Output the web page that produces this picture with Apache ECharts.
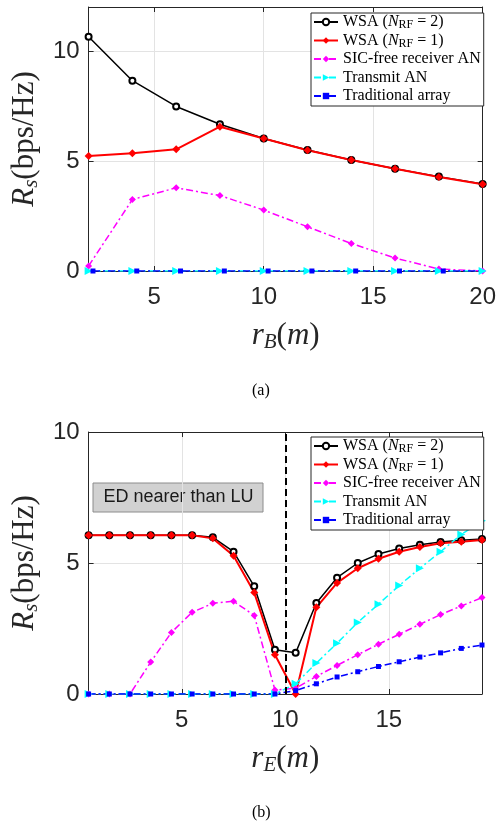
<!DOCTYPE html>
<html>
<head>
<meta charset="utf-8">
<script src="https://cdn.jsdelivr.net/npm/echarts@6/dist/echarts.min.js"></script>
<style>
html, body { margin: 0; padding: 0; background: #fff; }
#main { width: 499px; height: 828px; }
</style>
</head>
<body>
<div id="main"></div>
<script>
// ---- data: chart (a), secrecy rate vs r_B ----
var rB = [2, 4, 6, 8, 10, 12, 14, 16, 18, 20];
var rBTrad = [2.2, 4.2, 6.2, 8.2, 10.2, 12.2, 14.2, 16.2, 18.2, 20.2];
var wsa2A = [10.65, 8.65, 7.48, 6.67, 6.02, 5.50, 5.05, 4.65, 4.29, 3.95];
var wsa1A = [5.23, 5.35, 5.53, 6.56, 6.02, 5.49, 5.05, 4.65, 4.27, 3.94];
var sicA = [0.23, 3.25, 3.78, 3.43, 2.77, 2.01, 1.25, 0.59, 0.09, 0];
var txA = [0, 0, 0, 0, 0, 0, 0, 0, 0, 0];
var tradA = [0, 0, 0, 0, 0, 0, 0, 0, 0, 0];

// ---- data: chart (b), secrecy rate vs r_E ----
var rE = [0.5, 1.5, 2.5, 3.5, 4.5, 5.5, 6.5, 7.5, 8.5, 9.5, 10.5, 11.5, 12.5, 13.5, 14.5, 15.5, 16.5, 17.5, 18.5, 19.5];
var wsa2B = [6.06, 6.06, 6.06, 6.06, 6.06, 6.06, 5.98, 5.43, 4.11, 1.69, 1.57, 3.47, 4.44, 5.00, 5.34, 5.55, 5.70, 5.80, 5.87, 5.92];
var wsa1B = [6.06, 6.06, 6.06, 6.06, 6.06, 6.06, 5.94, 5.28, 3.87, 1.50, 0.00, 3.31, 4.24, 4.80, 5.16, 5.43, 5.61, 5.75, 5.81, 5.88];
var sicB = [0, 0, 0, 1.22, 2.35, 3.12, 3.46, 3.54, 3.00, 0.15, 0.22, 0.67, 1.09, 1.50, 1.90, 2.28, 2.66, 3.03, 3.36, 3.68];
var txB = [0, 0, 0, 0, 0, 0, 0, 0, 0, 0, 0.39, 1.18, 1.94, 2.73, 3.43, 4.14, 4.80, 5.43, 6.09, 6.61];
var tradB = [0, 0, 0, 0, 0, 0, 0, 0, 0, 0, 0.13, 0.39, 0.65, 0.85, 1.05, 1.23, 1.41, 1.57, 1.74, 1.87];

var xTicksA = [5, 10, 15, 20];
var yTicksA = [0, 5, 10];
var xTicksB = [5, 10, 15];
var yTicksB = [0, 5, 10];

var legendNames = ['wsa2', 'wsa1', 'sic', 'tx', 'trad'];
var legendLabels = {
    wsa2: 'WSA ({i|N}{sub|RF} = 2)',
    wsa1: 'WSA ({i|N}{sub|RF} = 1)',
    sic: 'SIC-free receiver AN',
    tx: 'Transmit AN',
    trad: 'Traditional array'
};

var myChart = echarts.init(document.getElementById('main'));

var serif = 'Liberation Serif';
var sans = 'Liberation Sans';
var axisColor = '#262626';
var dashDot = [7, 3, 2, 3];

function pairs(xs, ys) {
    return xs.map(function (x, i) { return [x, ys[i]]; });
}

var styles = {
    wsa2: { color: '#000000', symbol: 'emptyCircle', symbolSize: 6, lineType: 'solid', width: 1.5 },
    wsa1: { color: '#ff0000', symbol: 'diamond', symbolSize: 8, lineType: 'solid', width: 2 },
    sic: { color: '#ff00ff', symbol: 'diamond', symbolSize: 7, lineType: dashDot, width: 1.5 },
    tx: { color: '#00ffff', symbol: 'triangle', symbolSize: 8, lineType: dashDot, width: 1.5, rotate: -90 },
    trad: { color: '#0000ff', symbol: 'rect', symbolSize: 5, lineType: dashDot, width: 1.5 }
};

function mkSeries(name, xs, ys, gi) {
    var s = styles[name];
    return {
        name: name,
        type: 'line',
        xAxisIndex: gi * 2,
        yAxisIndex: gi * 2,
        data: pairs(xs, ys),
        symbol: s.symbol,
        symbolSize: s.symbolSize,
        symbolRotate: s.rotate || 0,
        showAllSymbol: true,
        clip: true,
        itemStyle: { color: s.color },
        lineStyle: { color: s.color, width: s.width, type: s.lineType },
        emphasis: { disabled: true }
    };
}

function xAxisMain(gi, min, max, ticks, nameSub) {
    return {
        type: 'value', gridIndex: gi, min: min, max: max, position: 'bottom',
        name: '{i|r}{s|' + nameSub + '}({i|m})',
        nameLocation: 'middle', nameGap: 48,
        nameTextStyle: {
            fontFamily: serif, fontSize: 31, color: axisColor, lineHeight: 34,
            rich: {
                i: { fontFamily: serif, fontStyle: 'italic', fontSize: 31, color: axisColor, lineHeight: 34 },
                s: { fontFamily: serif, fontStyle: 'italic', fontSize: 21, color: axisColor, lineHeight: 22, verticalAlign: 'bottom' }
            }
        },
        axisLine: { show: true, onZero: false, lineStyle: { color: axisColor, width: 1 } },
        axisTick: { show: true, inside: true, length: 5, customValues: ticks, lineStyle: { color: axisColor } },
        axisLabel: { show: true, customValues: ticks, margin: 14, fontFamily: sans, fontSize: 24, color: axisColor },
        splitLine: { show: true, lineStyle: { color: '#e3e3e3', width: 1 } }
    };
}

function xAxisMirror(gi, min, max, ticks) {
    return {
        type: 'value', gridIndex: gi, min: min, max: max, position: 'top',
        axisLine: { show: true, onZero: false, lineStyle: { color: axisColor, width: 1 } },
        axisTick: { show: true, inside: true, length: 5, customValues: ticks, lineStyle: { color: axisColor } },
        axisLabel: { show: false },
        splitLine: { show: false }
    };
}

function yAxisMain(gi, min, max, ticks) {
    return {
        type: 'value', gridIndex: gi, min: min, max: max, position: 'left',
        name: '{i|R}{s|s}(bps/Hz)',
        nameLocation: 'middle', nameGap: 44, nameRotate: 90,
        nameTextStyle: {
            fontFamily: serif, fontSize: 31, color: axisColor, lineHeight: 34,
            rich: {
                i: { fontFamily: serif, fontStyle: 'italic', fontSize: 31, color: axisColor, lineHeight: 34 },
                s: { fontFamily: serif, fontStyle: 'italic', fontSize: 21, color: axisColor, lineHeight: 22, verticalAlign: 'bottom' }
            }
        },
        axisLine: { show: true, onZero: false, lineStyle: { color: axisColor, width: 1 } },
        axisTick: { show: true, inside: true, length: 5, customValues: ticks, lineStyle: { color: axisColor } },
        axisLabel: { show: true, customValues: ticks, margin: 9, fontFamily: sans, fontSize: 24, color: axisColor },
        splitLine: { show: true, lineStyle: { color: '#e3e3e3', width: 1 } }
    };
}

function yAxisMirror(gi, min, max, ticks) {
    return {
        type: 'value', gridIndex: gi, min: min, max: max, position: 'right',
        axisLine: { show: true, onZero: false, lineStyle: { color: axisColor, width: 1 } },
        axisTick: { show: true, inside: true, length: 5, customValues: ticks, lineStyle: { color: axisColor } },
        axisLabel: { show: false },
        splitLine: { show: false }
    };
}

function mkLegend(top) {
    return {
        orient: 'vertical',
        left: 311,
        top: top,
        data: legendNames,
        itemWidth: 24,
        itemHeight: 8,
        itemGap: 0.5,
        padding: [0, 3, 1, 2],
        backgroundColor: '#ffffff',
        borderColor: axisColor,
        borderWidth: 1,
        selectedMode: false,
        formatter: function (name) { return legendLabels[name]; },
        textStyle: {
            fontFamily: serif, fontSize: 16, color: '#000', lineHeight: 18,
            rich: {
                i: { fontFamily: serif, fontStyle: 'italic', fontSize: 16, color: '#000', lineHeight: 18 },
                sub: { fontFamily: serif, fontSize: 12, color: '#000', lineHeight: 11, verticalAlign: 'bottom' }
            }
        }
    };
}

var seriesA = [
    mkSeries('wsa2', rB, wsa2A, 0),
    mkSeries('wsa1', rB, wsa1A, 0),
    mkSeries('sic', rB, sicA, 0),
    mkSeries('tx', rB, txA, 0),
    mkSeries('trad', rBTrad, tradA, 0)
];
var seriesB = [
    mkSeries('wsa2', rE, wsa2B, 1),
    mkSeries('wsa1', rE, wsa1B, 1),
    mkSeries('sic', rE, sicB, 1),
    mkSeries('tx', rE, txB, 1),
    mkSeries('trad', rE, tradB, 1)
];
// dashed boundary r_E = 10
seriesB[0].markLine = {
    silent: true,
    symbol: 'none',
    label: { show: false },
    lineStyle: { color: '#000', type: [7, 4], width: 2 },
    data: [{ xAxis: 10 }]
};

option = {
    backgroundColor: '#ffffff',
    animation: false,
    title: [
        { text: '(a)', left: 252, top: 383, padding: 0, textStyle: { fontFamily: serif, fontSize: 16, fontWeight: 'normal', color: '#000' } },
        { text: '(b)', left: 252, top: 805, padding: 0, textStyle: { fontFamily: serif, fontSize: 16, fontWeight: 'normal', color: '#000' } }
    ],
    grid: [
        { left: 81, top: 7, width: 402, height: 264 },
        { left: 80, top: 432, width: 402, height: 262 }
    ],
    legend: [mkLegend(13), mkLegend(437)],
    xAxis: [
        xAxisMain(0, 2, 20, xTicksA, 'B'),
        xAxisMirror(0, 2, 20, xTicksA),
        xAxisMain(1, 0.5, 19.5, xTicksB, 'E'),
        xAxisMirror(1, 0.5, 19.5, xTicksB)
    ],
    yAxis: [
        yAxisMain(0, 0, 12, yTicksA),
        yAxisMirror(0, 0, 12, yTicksA),
        yAxisMain(1, 0, 10, yTicksB),
        yAxisMirror(1, 0, 10, yTicksB)
    ],
    graphic: [
        {
            type: 'group',
            z: 50,
            children: [
                { type: 'rect', shape: { x: 93, y: 483, width: 170, height: 29 }, style: { fill: '#d1d1d1', stroke: '#8c8c8c', lineWidth: 1 } },
                { type: 'text', x: 178.5, y: 497.5, style: { text: 'ED nearer than LU', fill: '#1a1a1a', font: '18px "Liberation Sans"', align: 'center', verticalAlign: 'middle' } }
            ]
        }
    ],
    series: seriesA.concat(seriesB)
};

myChart.setOption(option);
window.addEventListener("resize", function () {
    myChart.resize();
});
</script>
</body>
</html>
